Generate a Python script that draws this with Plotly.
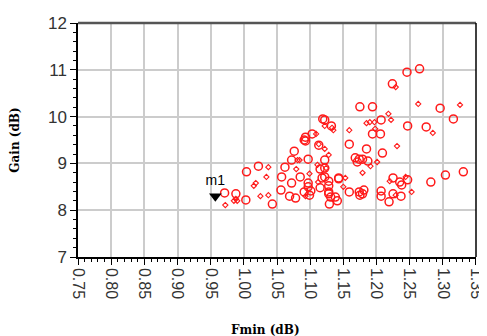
import plotly.graph_objects as go

# Circle-marker series (Fmin, Gain)
circ_fmin = [0.971, 0.988, 1.003, 1.004, 1.022, 1.043, 1.062, 1.057, 1.056, 1.072,
             1.069, 1.078, 1.085, 1.091, 1.099, 1.097, 1.097, 1.101, 1.115, 1.118,
             1.115, 1.122, 1.097, 1.076, 1.072, 1.091, 1.093, 1.103, 1.119, 1.128,
             1.128, 1.122, 1.122, 1.128, 1.128, 1.131, 1.138, 1.141, 1.129, 1.143,
             1.143, 1.159, 1.174, 1.175, 1.181, 1.179, 1.207, 1.207, 1.219, 1.225,
             1.237, 1.225, 1.235, 1.238, 1.247, 1.282, 1.304, 1.331, 1.159, 1.185,
             1.209, 1.168, 1.174, 1.179, 1.171, 1.187, 1.132, 1.122, 1.175, 1.194,
             1.296, 1.246, 1.265, 1.224, 1.207, 1.194, 1.206, 1.247, 1.275, 1.316,
             1.113, 1.093]
circ_gain = [8.37, 8.35, 8.22, 8.82, 8.94, 8.13, 8.92, 8.71, 8.43, 8.58,
             8.30, 8.26, 8.71, 8.39, 8.32, 8.58, 8.50, 8.41, 8.48, 8.69,
             8.88, 9.07, 9.09, 9.26, 9.07, 9.50, 9.56, 9.63, 9.95, 8.52,
             8.35, 8.90, 8.71, 8.62, 8.39, 8.28, 8.28, 8.20, 8.13, 8.69,
             8.67, 8.39, 8.39, 8.32, 8.43, 8.35, 8.41, 8.30, 8.18, 8.35,
             8.30, 8.69, 8.60, 8.54, 8.65, 8.60, 8.75, 8.82, 9.41, 9.31,
             9.22, 9.12, 9.09, 9.09, 9.03, 9.05, 9.80, 9.93, 10.21, 10.21,
             10.18, 10.95, 11.02, 10.70, 9.93, 9.63, 9.63, 9.80, 9.78, 9.95,
             9.39, 9.48]

# Small diamond-marker series (Fmin, Gain)
dia_fmin = [0.972, 0.988, 0.990, 0.985, 1.015, 1.018, 1.034, 1.037, 1.025, 1.037,
            1.079, 1.081, 1.084, 1.099, 1.112, 1.113, 1.122, 1.109, 1.093, 1.111,
            1.124, 1.122, 1.128, 1.133, 1.135, 1.159, 1.185, 1.190, 1.197, 1.198,
            1.218, 1.222, 1.229, 1.263, 1.285, 1.326, 1.231, 1.191, 1.201, 1.179,
            1.153, 1.150, 1.220, 1.244, 1.253, 1.229]
dia_gain = [8.11, 8.24, 8.20, 8.20, 8.52, 8.58, 8.71, 8.92, 8.30, 8.32,
            8.88, 9.07, 9.07, 8.78, 8.60, 9.41, 9.31, 9.63, 8.30, 8.97,
            8.90, 9.80, 9.18, 9.76, 9.71, 9.71, 9.86, 9.88, 9.88, 9.74,
            10.06, 9.93, 10.63, 10.27, 9.65, 10.25, 9.37, 8.94, 9.03, 8.80,
            8.69, 8.50, 8.62, 8.71, 8.39, 8.32]

marker_fmin = [0.957]
marker_gain = [8.30]
marker_label = ["m1"]

x_ticks = [0.75, 0.80, 0.85, 0.90, 0.95, 1.00, 1.05, 1.10, 1.15, 1.20, 1.25, 1.30, 1.35]
y_ticks = [7, 8, 9, 10, 11, 12]

red = "#ff1a1a"
fig = go.Figure()
fig.add_trace(go.Scatter(x=circ_fmin, y=circ_gain, mode="markers",
                         marker=dict(symbol="circle-open", size=8, color=red,
                                     line=dict(width=1.5, color=red)),
                         showlegend=False))
fig.add_trace(go.Scatter(x=dia_fmin, y=dia_gain, mode="markers",
                         marker=dict(symbol="diamond-open", size=4, color=red,
                                     line=dict(width=1.1, color=red)),
                         showlegend=False))
fig.add_trace(go.Scatter(x=marker_fmin, y=marker_gain, mode="markers+text",
                         text=marker_label, textposition="top center",
                         textfont=dict(family="Liberation Sans", size=14, color="black"),
                         marker=dict(symbol="triangle-down", size=11, color="black"),
                         showlegend=False))

fig.update_layout(
    width=487, height=336,
    margin=dict(l=70, r=10, t=15, b=87),
    paper_bgcolor="white", plot_bgcolor="white",
    font=dict(family="Liberation Sans", color="black"),
    xaxis=dict(range=[0.7499, 1.3501], tickvals=x_ticks,
               ticktext=[f"{v:.2f}" for v in x_ticks],
               tickangle=90, tickfont=dict(size=16, color="#333"),
               ticklabeloverflow="allow",
               showgrid=True, gridcolor="#cccccc", gridwidth=1.5,
               showline=True, linecolor="black", linewidth=1.5, mirror=False,
               ticks="outside", ticklen=6, tickcolor="black",
               minor=dict(dtick=0.01, ticks="outside", ticklen=3, tickcolor="black", showgrid=False),
               zeroline=False),
    yaxis=dict(range=[7, 12], tickvals=y_ticks,
               tickfont=dict(size=17, color="#333"), automargin=False,
               showgrid=True, gridcolor="#cccccc", gridwidth=1.5,
               showline=True, linecolor="black", linewidth=1.5,
               ticks="outside", ticklen=6, tickcolor="black",
               minor=dict(dtick=0.2, ticks="outside", ticklen=3, tickcolor="black", showgrid=False),
               zeroline=False,
               title=dict(text="<b>Gain (dB)</b>", font=dict(family="DejaVu Serif", size=12), standoff=26)),
    annotations=[dict(text="<b>Fmin (dB)</b>", xref="paper", yref="paper",
                      x=0.47, y=-0.31, xanchor="center", yanchor="middle",
                      showarrow=False, font=dict(family="DejaVu Serif", size=12, color="black"))],
    shapes=[
        dict(type="line", xref="paper", yref="paper", x0=0, x1=1, y0=1, y1=1,
             line=dict(color="#555555", width=2.5)),
        dict(type="line", xref="paper", yref="paper", x0=1, x1=1, y0=0, y1=1,
             line=dict(color="black", width=1.5)),
    ],
)

fig.write_html("out.html")
